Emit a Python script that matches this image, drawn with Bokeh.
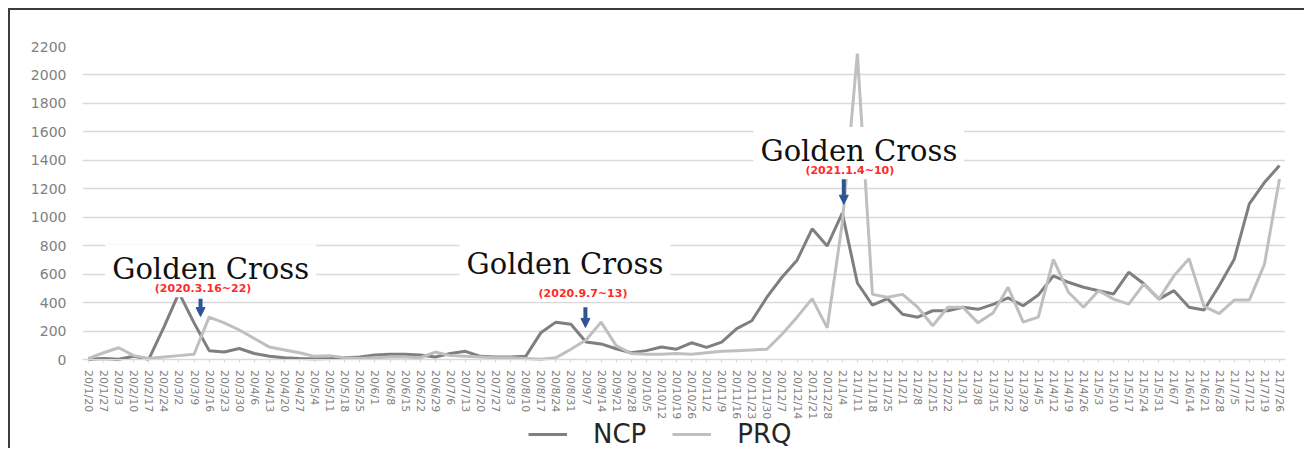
from bokeh.plotting import figure
from bokeh.models import (Range1d, FixedTicker, Label, Arrow, NormalHead, Legend,
                          LegendItem)
from bokeh.embed import file_html
from bokeh.resources import INLINE

weeks = ["20/1/20", "20/1/27", "20/2/3", "20/2/10", "20/2/17", "20/2/24", "20/3/2", "20/3/9",
         "20/3/16", "20/3/23", "20/3/30", "20/4/6", "20/4/13", "20/4/20", "20/4/27", "20/5/4",
         "20/5/11", "20/5/18", "20/5/25", "20/6/1", "20/6/8", "20/6/15", "20/6/22", "20/6/29",
         "20/7/6", "20/7/13", "20/7/20", "20/7/27", "20/8/3", "20/8/10", "20/8/17", "20/8/24",
         "20/8/31", "20/9/7", "20/9/14", "20/9/21", "20/9/28", "20/10/5", "20/10/12", "20/10/19",
         "20/10/26", "20/11/2", "20/11/9", "20/11/16", "20/11/23", "20/11/30", "20/12/7", "20/12/14",
         "20/12/21", "20/12/28", "21/1/4", "21/1/11", "21/1/18", "21/1/25", "21/2/1", "21/2/8",
         "21/2/15", "21/2/22", "21/3/1", "21/3/8", "21/3/15", "21/3/22", "21/3/29", "21/4/5",
         "21/4/12", "21/4/19", "21/4/26", "21/5/3", "21/5/10", "21/5/17", "21/5/24", "21/5/31",
         "21/6/7", "21/6/14", "21/6/21", "21/6/28", "21/7/5", "21/7/12", "21/7/19", "21/7/26"]

ncp = [5, 10, 5, 25, 5, 230, 470, 260, 65, 55, 80, 45, 25, 15, 10, 8, 10, 15, 20, 35,
       40, 40, 35, 20, 45, 60, 25, 20, 20, 25, 190, 265, 250, 125, 112, 78, 50, 65, 90, 75,
       120, 88, 125, 220, 275, 440, 580, 700, 920, 800, 1030, 540, 385, 430, 320, 300, 345, 345, 370, 355,
       390, 435, 380, 455, 590, 545, 510, 485, 463, 615, 535, 427, 486, 370, 350, 520, 707, 1095, 1245, 1365]

prq = [10, 50, 85, 30, 10, 20, 30, 40, 300, 260, 210, 150, 90, 70, 50, 25, 30, 15, 10, 15,
       20, 20, 15, 55, 30, 25, 20, 15, 15, 10, 5, 15, 75, 140, 265, 100, 45, 40, 40, 45,
       40, 50, 60, 65, 70, 75, 180, 300, 430, 225, 960, 2150, 460, 440, 460, 370, 240, 370, 370, 260,
       330, 510, 265, 300, 705, 475, 370, 486, 427, 392, 532, 427, 590, 710, 375, 325, 420, 420, 670, 1270]

y_ticks = [0, 200, 400, 600, 800, 1000, 1200, 1400, 1600, 1800, 2000, 2200]

crosses = [("20/3/16", "(2020.3.16~22)"), ("20/9/7", "(2020.9.7~13)"), ("21/1/4", "(2021.1.4~10)")]

x = list(range(len(weeks)))
last = len(weeks) - 1

# the frame reaches down to the legend; value 0 sits where the reference's x axis is
p = figure(width=1296, height=440, output_backend="svg", toolbar_location=None,
           x_range=Range1d(-0.4, last + 0.4), y_range=Range1d(-636, 2200),
           min_border_left=72, min_border_right=21, min_border_top=36, min_border_bottom=0)
p.styles = {"border-left": "2px solid #3c3c3c", "border-top": "2px solid #3c3c3c",
            "margin-left": "8px", "margin-top": "8px"}
p.outline_line_color = None
p.background_fill_color = "white"

p.xgrid.grid_line_color = None
p.ygrid.grid_line_color = "#d9d9d9"
p.ygrid.grid_line_width = 1.5
p.ygrid.ticker = FixedTicker(ticks=y_ticks)
p.ygrid.bounds = (0, last)

p.yaxis.ticker = FixedTicker(ticks=y_ticks)
p.yaxis.axis_line_color = None
p.yaxis.major_tick_line_color = None
p.yaxis.minor_tick_line_color = None
p.yaxis.major_label_standoff = 10
p.yaxis.major_label_text_font = "DejaVu Sans"
p.yaxis.major_label_text_font_size = "14px"
p.yaxis.major_label_text_color = "#7f7f7f"

p.xaxis.fixed_location = 0
p.xaxis.bounds = (0, last)
p.xaxis.ticker = FixedTicker(ticks=x)
p.xaxis.major_label_overrides = {i: w for i, w in zip(x, weeks)}
p.xaxis.major_label_orientation = "vertical"
p.xaxis.axis_line_color = "#d9d9d9"
p.xaxis.major_tick_line_color = "#d9d9d9"
p.xaxis.major_tick_out = 3
p.xaxis.major_tick_in = 0
p.xaxis.minor_tick_line_color = None
p.xaxis.major_label_standoff = 7
p.xaxis.major_label_text_font = "DejaVu Sans"
p.xaxis.major_label_text_font_size = "11px"
p.xaxis.major_label_text_color = "#7f7f7f"

r1 = p.line(x, ncp, line_color="#7f7f7f", line_width=3)
r2 = p.line(x, prq, line_color="#bfbfbf", line_width=3)

# annotations
gc_pos = [(8.1, 640), (31.6, 675), (51.1, 1466)]
date_pos = [(7.6, 500), (32.8, 468), (50.5, 1327)]
arrow_pos = [(7.43, 430, 304), (32.96, 369, 228), (50.1, 1268, 1093)]
for (gx, gy), (dx, dy), (ax, a0, a1), (_, dtxt) in zip(gc_pos, date_pos, arrow_pos, crosses):
    p.add_layout(Label(x=gx, y=gy, text="Golden Cross", text_align="center",
                       text_baseline="alphabetic", text_font="DejaVu Serif",
                       text_font_size="29px", text_color="#111111",
                       background_fill_color="white", padding=7))
    p.add_layout(Label(x=dx, y=dy, text=dtxt, text_align="center", text_baseline="middle",
                       text_font="DejaVu Sans", text_font_style="bold", text_font_size="11px",
                       text_color="#ff2a2a", background_fill_color="white", padding=2))
    p.add_layout(Arrow(x_start=ax, y_start=a0, x_end=ax, y_end=a1, line_color="#2f5496",
                       line_width=4,
                       end=NormalHead(size=9, fill_color="#2f5496", line_color="#2f5496")))

legend = Legend(items=[LegendItem(label="NCP", renderers=[r1]),
                       LegendItem(label="PRQ", renderers=[r2])],
                orientation="horizontal", location=(446, 1), padding=0, margin=0,
                spacing=26, label_standoff=26, glyph_width=39, glyph_height=20,
                label_height=20, border_line_color=None, background_fill_alpha=0,
                label_text_font="DejaVu Sans", label_text_font_size="26px",
                label_text_color="#262626")
p.add_layout(legend, "center")

open("out.html", "w").write(file_html(p, INLINE))
